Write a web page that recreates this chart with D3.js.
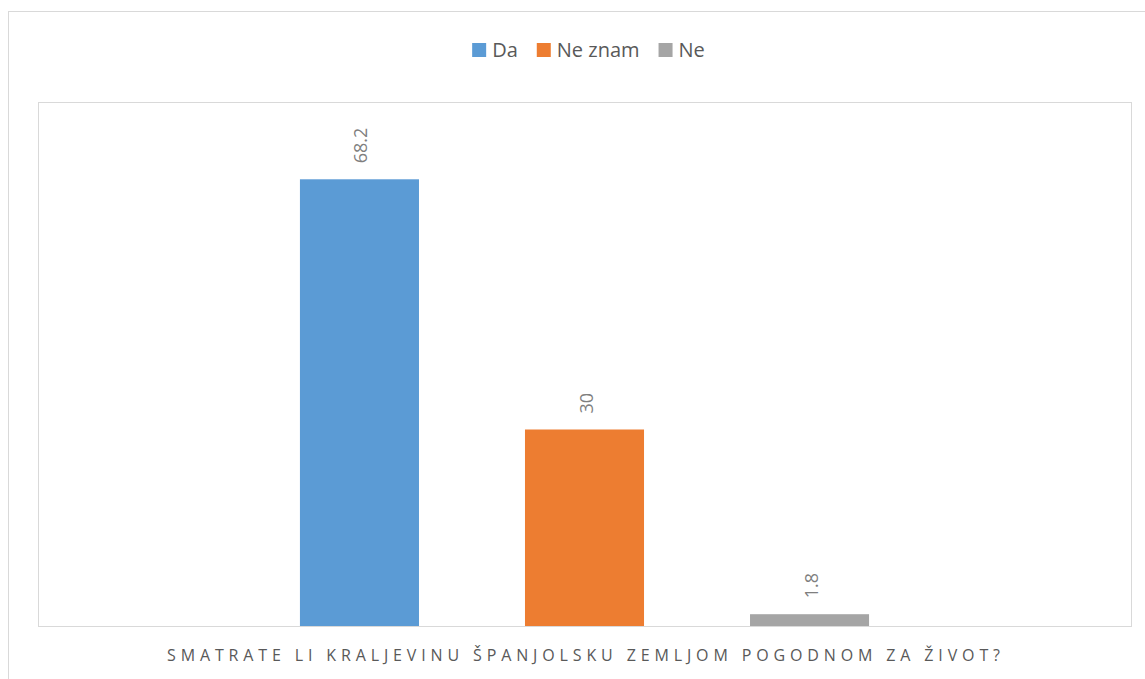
<!DOCTYPE html>
<html><head><meta charset="utf-8">
<script src="https://cdn.jsdelivr.net/npm/d3@7"></script>
<style>body{margin:0;background:#fff}svg{display:block}</style>
</head><body>
<svg id="c" width="1145" height="679"></svg>
<script>
const categories = ["SMATRATE LI KRALJEVINU ŠPANJOLSKU ZEMLJOM POGODNOM ZA ŽIVOT?"];
const seriesNames = ["Da", "Ne znam", "Ne"];
const seriesValues = [68.2, 30, 1.8];
const seriesColors = ["#5b9bd5", "#ed7d31", "#a5a5a5"];
const yDomain = [0, 80];

const svg = d3.select("#c");
const FONT = "'Open Sans', sans-serif";
const plot = {left: 38, right: 1131, top: 102, bottom: 626};

// outer chart border
svg.append("rect").attr("x", 8.5).attr("y", 11.5).attr("width", 1160).attr("height", 700)
  .attr("fill", "none").attr("stroke", "#d9d9d9").attr("stroke-width", 1);
// plot area border
svg.append("rect").attr("x", plot.left + 0.5).attr("y", plot.top + 0.5)
  .attr("width", plot.right - plot.left).attr("height", plot.bottom - plot.top)
  .attr("fill", "none").attr("stroke", "#d9d9d9").attr("stroke-width", 1);

const x0 = d3.scaleBand().domain(categories).range([plot.left, plot.right]).padding(0);
const x1 = d3.scaleBand().domain(seriesNames)
  .range([x0(categories[0]), x0(categories[0]) + x0.bandwidth()])
  .paddingInner(0.471).paddingOuter(1.164);
const y = d3.scaleLinear().domain(yDomain).range([plot.bottom, plot.top]);

const data = seriesNames.map((s, i) => ({s, v: seriesValues[i], c: seriesColors[i]}));

svg.append("g").selectAll("rect").data(data).join("rect")
  .attr("x", d => x1(d.s)).attr("width", x1.bandwidth())
  .attr("y", d => y(d.v)).attr("height", d => y(0) - y(d.v))
  .attr("fill", d => d.c);

// axis line
svg.append("line").attr("x1", plot.left).attr("x2", plot.right + 1)
  .attr("y1", plot.bottom + 0.5).attr("y2", plot.bottom + 0.5)
  .attr("stroke", "#d9d9d9").attr("stroke-width", 1);

// data labels rotated
svg.append("g").selectAll("text").data(data).join("text")
  .attr("transform", d => `translate(${x1(d.s) + x1.bandwidth() / 2 + 8},${y(d.v) - 16}) rotate(-90)`)
  .attr("text-anchor", "start")
  .attr("font-family", FONT).attr("font-size", 18).attr("fill", "#7f7f7f")
  .text(d => d.v);

// category axis title
svg.append("text").attr("x", 167).attr("y", 661)
  .attr("text-anchor", "start").attr("font-family", FONT).attr("font-size", 16)
  .attr("textLength", 833).attr("lengthAdjust", "spacing").attr("fill", "#595959")
  .text(categories[0]);

// legend
const lg = svg.append("g");
const items = lg.selectAll("g").data(data).join("g");
items.append("rect").attr("width", 14).attr("height", 14).attr("y", 43).attr("fill", d => d.c);
items.append("text").attr("x", 20).attr("y", 57).attr("font-family", FONT).attr("font-size", 20)
  .attr("fill", "#595959").text(d => d.s);
let widths = [];
items.each(function () { widths.push(this.getBBox().width); });
const gap = 19;
const total = d3.sum(widths) + gap * (widths.length - 1);
let cx = (plot.left + plot.right) / 2 - total / 2 + 4;
items.attr("transform", (d, i) => { const t = `translate(${cx},0)`; cx += widths[i] + gap; return t; });
</script>
</body></html>
